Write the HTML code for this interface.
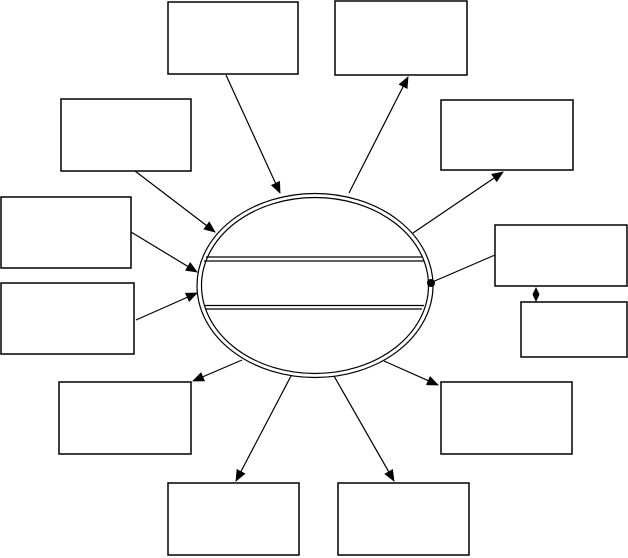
<!DOCTYPE html>
<html><head><style>html,body{margin:0;padding:0;background:#fff}svg{display:block}</style></head>
<body>
<svg width="628" height="558" viewBox="0 0 628 558" xmlns="http://www.w3.org/2000/svg">
<defs>
<marker id="a" markerWidth="12" markerHeight="10" refX="11" refY="5" orient="auto" markerUnits="userSpaceOnUse">
<path d="M0,0 L12,5 L0,10 z" fill="#000"/></marker>
</defs>
<g fill="#fff" stroke="#000" stroke-width="1.5">
<rect x="168" y="2" width="130" height="72"/>
<rect x="335" y="1" width="132" height="74"/>
<rect x="61" y="99" width="130" height="72"/>
<rect x="441" y="100" width="132" height="70"/>
<rect x="1" y="197" width="130" height="71"/>
<rect x="1" y="283" width="133" height="71"/>
<rect x="495" y="225" width="132" height="61"/>
<rect x="521" y="302" width="106" height="55"/>
<rect x="59" y="382" width="132" height="72"/>
<rect x="441" y="382" width="131" height="72"/>
<rect x="168" y="483" width="131" height="72"/>
<rect x="338" y="483" width="131" height="72"/>
</g>
<g stroke="#000" stroke-width="1.2" fill="none">
<ellipse cx="315" cy="285.5" rx="118" ry="92"/>
<ellipse cx="315" cy="285.5" rx="113.5" ry="88"/>
<line x1="206" y1="257" x2="422" y2="257"/>
<line x1="204" y1="261" x2="424" y2="261"/>
<line x1="204" y1="305.5" x2="424" y2="305.5"/>
<line x1="206" y1="309" x2="422" y2="309"/>
<line x1="226" y1="75" x2="280" y2="193" marker-end="url(#a)"/>
<line x1="349" y1="193" x2="408" y2="77" marker-end="url(#a)"/>
<line x1="135" y1="171" x2="215" y2="232" marker-end="url(#a)"/>
<line x1="413" y1="233" x2="503" y2="172" marker-end="url(#a)"/>
<line x1="131" y1="232" x2="197" y2="272" marker-end="url(#a)"/>
<line x1="136" y1="320" x2="197" y2="293" marker-end="url(#a)"/>
<line x1="430" y1="283" x2="495" y2="255"/>
<line x1="242" y1="360" x2="193" y2="381" marker-end="url(#a)"/>
<line x1="384" y1="361" x2="438" y2="385" marker-end="url(#a)"/>
<line x1="291" y1="376" x2="236" y2="481" marker-end="url(#a)"/>
<line x1="334" y1="376" x2="394" y2="481" marker-end="url(#a)"/>
</g>
<circle cx="431" cy="283" r="4" fill="#000"/>
<path d="M536,287 L539.5,294.5 L536,302 L532.5,294.5 z" fill="#000"/>
</svg>
</body></html>
